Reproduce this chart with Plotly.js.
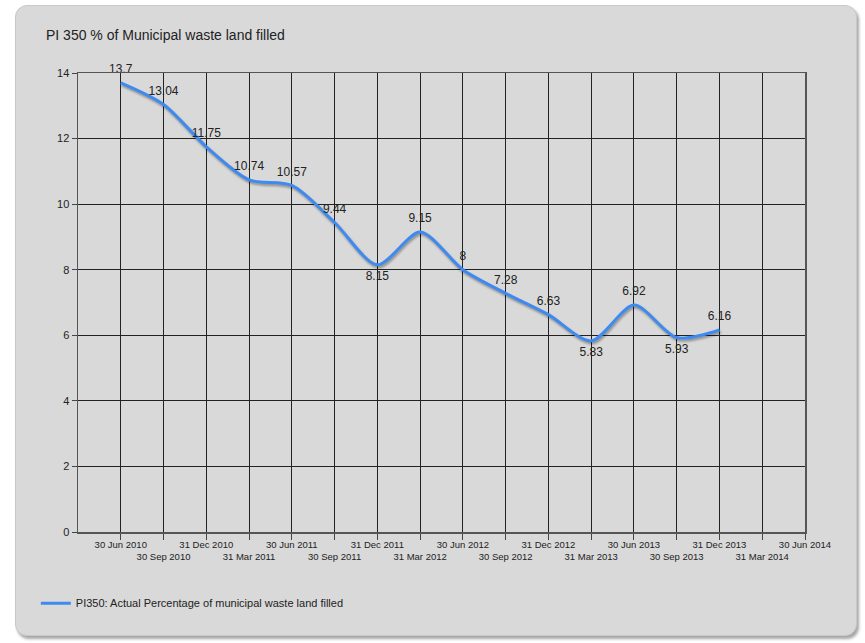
<!DOCTYPE html>
<html>
<head>
<meta charset="utf-8">
<script src="https://cdn.plot.ly/plotly-3.0.1.min.js"></script>
<style>
html,body{margin:0;padding:0;background:#fff;width:865px;height:643px;overflow:hidden;}
#panel{position:absolute;left:15px;top:5px;width:840px;height:629px;background:#d9d9d9;border:1px solid #c8c8c8;border-radius:12px;box-shadow:2px 3px 3px rgba(0,0,0,0.35);}
#chart{position:absolute;left:0;top:0;width:865px;height:643px;}
.scatterlayer .js-line{filter:drop-shadow(1px 2px 1.2px rgba(0,0,0,0.35));}
</style>
</head>
<body>
<div id="panel"></div>
<div id="chart"></div>
<script>
// Quarter-end labels for the x axis (31 Mar 2010 is the unlabeled axis origin)
const quarters = ["30 Jun 2010","30 Sep 2010","31 Dec 2010","31 Mar 2011","30 Jun 2011","30 Sep 2011","31 Dec 2011","31 Mar 2012","30 Jun 2012","30 Sep 2012","31 Dec 2012","31 Mar 2013","30 Jun 2013","30 Sep 2013","31 Dec 2013","31 Mar 2014","30 Jun 2014"];
// Actual percentage of municipal waste land filled (30 Jun 2010 .. 31 Dec 2013)
const actual = [13.7, 13.04, 11.75, 10.74, 10.57, 9.44, 8.15, 9.15, 8, 7.28, 6.63, 5.83, 6.92, 5.93, 6.16];
const labelPos = ["top center","top center","top center","top center","top center","top center","bottom center","top center","top center","top center","top center","bottom center","top center","bottom center","top center"];
const yTicks = [0,2,4,6,8,10,12,14];

const idx = quarters.map((q,i)=>i);
const xs = actual.map((v,i)=>idx[i]);
const tickText = quarters.map((q,i)=> i%2===0 ? q : "<br>"+q);

const trace = {
  x: xs, y: actual, type: "scatter", mode: "lines+markers+text",
  name: "PI350: Actual Percentage of municipal waste land filled",
  line: {color: "#3d8af0", width: 3, shape: "spline", smoothing: 0.8},
  marker: {size: 9, color: "rgba(0,0,0,0)"},
  text: actual.map(v=>String(v)), textposition: labelPos,
  textfont: {family: "Liberation Sans, Arial", size: 12, color: "#222"},
  cliponaxis: false
};

const layout = {
  width: 865, height: 643,
  paper_bgcolor: "rgba(0,0,0,0)", plot_bgcolor: "#d9d9d9",
  margin: {l: 78, r: 60, t: 73, b: 111},
  title: {text: "PI 350 % of Municipal waste land filled", x: 46/865, xanchor: "left", y: 1-35/643, yanchor: "middle",
          font: {family: "Liberation Sans, Arial", size: 14, color: "#222"}},
  xaxis: {range: [-1, 16], tickmode: "array", tickvals: idx, ticktext: tickText,
          showgrid: true, gridcolor: "#222", gridwidth: 1, zeroline: false,
          showline: true, linecolor: "#555", linewidth: 1.5, mirror: true,
          ticks: "outside", ticklen: 6, tickcolor: "#444", tickangle: 0, ticklabelstandoff: -3,
          tickfont: {family: "Liberation Sans, Arial", size: 9.5, color: "#222"}, fixedrange: true},
  yaxis: {range: [0, 14], tickmode: "array", tickvals: yTicks,
          showgrid: true, gridcolor: "#222", gridwidth: 1, zeroline: false,
          showline: true, linecolor: "#555", linewidth: 1.5, mirror: true,
          ticks: "outside", ticklen: 5, tickcolor: "#444",
          tickfont: {family: "Liberation Sans, Arial", size: 11, color: "#222"}, fixedrange: true},
  showlegend: true,
  legend: {orientation: "h", x: -0.058, xanchor: "left", y: -0.155, yanchor: "middle",
           bgcolor: "rgba(0,0,0,0)", font: {family: "Liberation Sans, Arial", size: 11, color: "#222"},
           itemwidth: 30}
};

Plotly.newPlot("chart", [trace], layout, {displayModeBar: false, staticPlot: true});
</script>
</body>
</html>
